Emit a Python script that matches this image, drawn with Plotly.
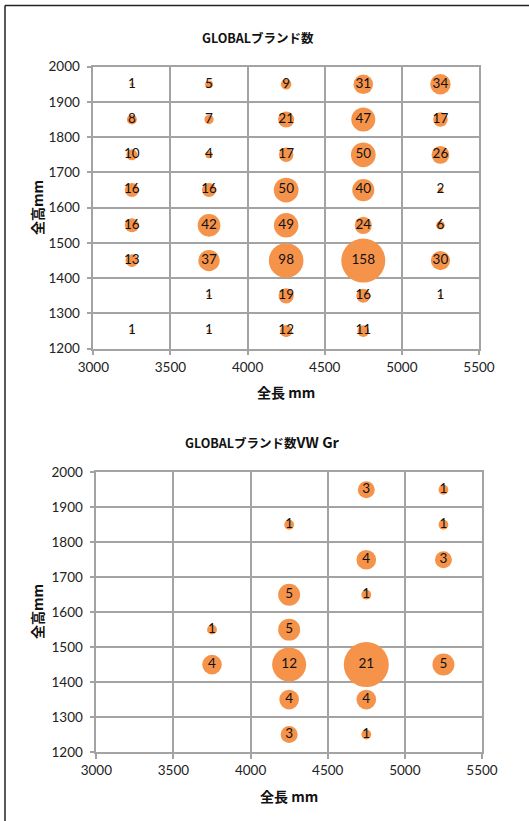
import plotly.graph_objects as go

# ---- data ----
top_x = [3250, 3750, 4250, 4750, 5250,
         3250, 3750, 4250, 4750, 5250,
         3250, 3750, 4250, 4750, 5250,
         3250, 3750, 4250, 4750, 5250,
         3250, 3750, 4250, 4750, 5250,
         3250, 3750, 4250, 4750, 5250,
         3750, 4250, 4750, 5250,
         3250, 3750, 4250, 4750]
top_y = [1950] * 5 + [1850] * 5 + [1750] * 5 + [1650] * 5 + [1550] * 5 + [1450] * 5 + [1350] * 4 + [1250] * 4
top_v = [1, 5, 9, 31, 34,
         8, 7, 21, 47, 17,
         10, 4, 17, 50, 26,
         16, 16, 50, 40, 2,
         16, 42, 49, 24, 6,
         13, 37, 98, 158, 30,
         1, 19, 16, 1,
         1, 1, 12, 11]

bot_x = [3750, 3750,
         4250, 4250, 4250, 4250, 4250, 4250,
         4750, 4750, 4750, 4750, 4750, 4750,
         5250, 5250, 5250, 5250]
bot_y = [1550, 1450,
         1850, 1650, 1550, 1450, 1350, 1250,
         1950, 1750, 1650, 1450, 1350, 1250,
         1950, 1850, 1750, 1450]
bot_v = [1, 4,
         1, 5, 5, 12, 4, 3,
         3, 4, 1, 21, 4, 1,
         1, 1, 3, 5]

titles = ["GLOBALブランド数", "GLOBALブランド数<span style='font-size:14.5px'>VW Gr</span>"]
x_title = "全長 mm"
y_title = "全高mm"
x_ticks = [3000, 3500, 4000, 4500, 5000, 5500]
y_ticks = [1200, 1300, 1400, 1500, 1600, 1700, 1800, 1900, 2000]

W, H = 529, 821
FONT = "Lato, 'Noto Sans CJK JP', sans-serif"
CJK = "'Noto Sans CJK JP', Lato, sans-serif"
ORANGE = "#F5934A"
GRID = "#A3A3A3"

def px_x(p):
    return p / W

def px_y(p):
    return 1 - p / H

fig = go.Figure()

fig.add_trace(go.Scatter(
    x=top_x, y=top_y, text=[str(v) for v in top_v],
    mode="markers+text", textposition="middle center",
    textfont=dict(family=FONT, size=13.5, color="#111"),
    marker=dict(size=top_v, sizemode="area", sizeref=2 * max(top_v) / 44 ** 2,
                color=ORANGE, line=dict(width=0), opacity=1),
    xaxis="x", yaxis="y", showlegend=False, hoverinfo="skip"))

fig.add_trace(go.Scatter(
    x=bot_x, y=bot_y, text=[str(v) for v in bot_v],
    mode="markers+text", textposition="middle center",
    textfont=dict(family=FONT, size=13.5, color="#111"),
    marker=dict(size=bot_v, sizemode="area", sizeref=2 * max(bot_v) / 45 ** 2,
                color=ORANGE, line=dict(width=0), opacity=1),
    xaxis="x2", yaxis="y2", showlegend=False, hoverinfo="skip"))

axis_common = dict(showgrid=True, gridcolor=GRID, gridwidth=1.5,
                   showline=True, linecolor=GRID, linewidth=1.5, mirror=True,
                   ticks="outside", ticklen=5, tickcolor=GRID, tickwidth=1.5,
                   zeroline=False, fixedrange=True,
                   tickfont=dict(family=FONT, size=13.5, color="#222"))

fig.update_layout(
    width=W, height=H,
    margin=dict(l=0, r=0, t=0, b=0, autoexpand=False),
    paper_bgcolor="white", plot_bgcolor="white",
    xaxis=dict(domain=[px_x(93.3), px_x(479)], range=[3000, 5500], tickvals=x_ticks,
               anchor="y", **axis_common),
    yaxis=dict(domain=[px_y(348.7), px_y(66.7)], range=[1200, 2000], tickvals=y_ticks,
               anchor="x", ticklabelstandoff=4, **axis_common),
    xaxis2=dict(domain=[px_x(96.3), px_x(482)], range=[3000, 5500], tickvals=x_ticks,
                anchor="y2", **axis_common),
    yaxis2=dict(domain=[px_y(752), px_y(472.3)], range=[1200, 2000], tickvals=y_ticks,
                anchor="x2", ticklabelstandoff=4, **axis_common),
)

annotations = [
    dict(text="<b>%s</b>" % titles[0], x=px_x(258), y=px_y(37), font=dict(family=CJK, size=12.5, color="#111")),
    dict(text="<b>%s</b>" % titles[1], x=px_x(262), y=px_y(442), font=dict(family=CJK, size=12.5, color="#111")),
    dict(text="<b>%s</b>" % x_title, x=px_x(286), y=px_y(392), font=dict(family=CJK, size=14, color="#111")),
    dict(text="<b>%s</b>" % x_title, x=px_x(289), y=px_y(796), font=dict(family=CJK, size=14, color="#111")),
    dict(text="<b>%s</b>" % y_title, x=px_x(37), y=px_y(208), textangle=-90, font=dict(family=CJK, size=14, color="#111")),
    dict(text="<b>%s</b>" % y_title, x=px_x(37), y=px_y(612), textangle=-90, font=dict(family=CJK, size=14, color="#111")),
]
for a in annotations:
    a.update(xref="paper", yref="paper", showarrow=False, xanchor="center", yanchor="middle")
fig.update_layout(annotations=annotations)

fig.update_layout(shapes=[
    dict(type="line", xref="paper", yref="paper", x0=px_x(5), x1=1, y0=px_y(5.5), y1=px_y(5.5),
         line=dict(color="#222", width=1.5)),
    dict(type="line", xref="paper", yref="paper", x0=px_x(5), x1=px_x(5), y0=0, y1=px_y(5.5),
         line=dict(color="#222", width=1.5)),
])

fig.write_html("out.html")
